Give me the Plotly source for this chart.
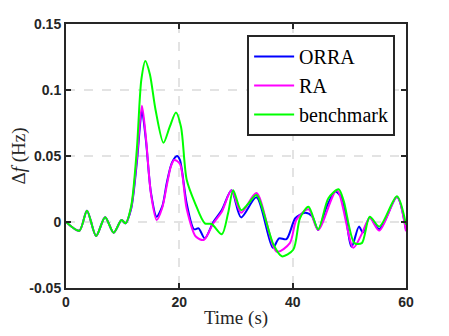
import plotly.graph_objects as go

# time stamps (s) and frequency deviation (Hz)
t_orra = [0, 2.35, 3.7, 5.3, 6.9, 8.4, 9.8, 10.5, 11.5, 12.5, 13.4, 14.1, 15.0, 16.0, 17.0, 17.8,
          18.7, 19.6, 20.1, 21.3, 22.6, 23.4, 24.5, 26.0, 27.5, 29.2, 30.9, 33.6, 36.5, 37.6, 38.9,
          40.5, 42.2, 43.4, 44.5, 46.0, 47.5, 48.7, 50.4, 51.7, 52.4, 53.6, 55.3, 58.4, 60]
orra = [0, -0.0066, 0.0086, -0.0106, 0.0036, -0.0081, 0.0015, -0.001, 0.01, 0.045, 0.084, 0.062,
        0.022, 0.004, 0.012, 0.03, 0.045, 0.050, 0.047, 0.014, -0.0055, -0.0048, -0.0125, 0.0,
        0.009, 0.024, 0.0035, 0.0187, -0.0195, -0.0124, -0.013, 0.003, 0.007, 0.0045, -0.006,
        0.0116, 0.023, 0.018, -0.0187, -0.0035, -0.008, 0.0035, -0.0055, 0.019, -0.006]

t_ra = [0, 2.35, 3.7, 5.3, 6.9, 8.4, 9.8, 10.5, 11.5, 12.5, 13.4, 14.1, 15.0, 16.0, 17.0, 17.8,
        18.5, 19.1, 20.1, 21.3, 22.9, 24.3, 26.0, 27.5, 29.2, 30.9, 33.6, 37.2, 39.5, 40.7,
        42.8, 44.5, 47.8, 50.7, 52.2, 53.6, 55.3, 58.4, 60]
ra = [0, -0.0066, 0.0086, -0.0106, 0.0036, -0.0081, 0.0015, -0.001, 0.011, 0.048, 0.088, 0.064,
      0.021, 0.0015, 0.011, 0.028, 0.042, 0.047, 0.044, 0.01, -0.011, -0.0136, -0.001, 0.0078,
      0.024, 0.007, 0.022, -0.0225, -0.016, 0.002, 0.0096, -0.006, 0.024, -0.0195, -0.009,
      0.003, -0.0065, 0.019, -0.007]

t_bench = [0, 2.35, 3.7, 5.3, 6.9, 8.4, 9.8, 10.5, 11.5, 12.5, 13.3, 14.0, 14.8, 15.8, 17.2, 18.3,
           19.4, 20.3, 21.3, 22.8, 24.5, 25.7, 27.5, 28.6, 29.5, 30.9, 32.2, 33.6, 36.6,
           38.1, 40.1, 41.3, 42.8, 44.5, 46.3, 48.1, 49.0, 50.9, 52.2, 53.6, 55.3, 58.4, 60]
bench = [0, -0.0066, 0.0086, -0.0106, 0.0036, -0.0081, 0.0015, -0.001, 0.012, 0.055, 0.108, 0.122,
         0.112, 0.085, 0.060, 0.072, 0.083, 0.072, 0.032, 0.014, -0.001, -0.0015, -0.0093, 0.0066,
         0.024, 0.009, 0.014, 0.0205, -0.017, -0.026, -0.021, 0.003, 0.0116, -0.0055, 0.018,
         0.0248, 0.016, -0.016, -0.016, 0.004, -0.0035, 0.0195, -0.002]

x_ticks = [0, 20, 40, 60]
y_ticks = [-0.05, 0, 0.05, 0.1, 0.15]
y_labels = ['-0.05', '0', '0.05', '0.1', '0.15']

fig = go.Figure()
for tt, yy, name, col in [(t_orra, orra, 'ORRA', '#0000ff'), (t_ra, ra, 'RA', '#ff00ff'),
                          (t_bench, bench, 'benchmark', '#00ff00')]:
    fig.add_trace(go.Scatter(x=tt, y=yy, name=name, mode='lines',
                             line=dict(color=col, width=2, shape='spline', smoothing=0.8)))

axis_style = dict(showline=True, mirror='ticks', linecolor='#262626', linewidth=2,
                  ticks='inside', ticklen=5, tickwidth=1.5, tickcolor='#262626',
                  showgrid=True, gridcolor='#e3e3e3', gridwidth=1.5, griddash='dash',
                  zeroline=False, automargin=False,
                  tickfont=dict(family='Liberation Sans', size=14, color='#262626'))

fig.update_xaxes(range=[0, 60], tickvals=x_ticks, ticktext=['<b>%d</b>' % v for v in x_ticks],
                 title=dict(text='Time (s)', font=dict(family='Liberation Serif', size=19, color='#262626'),
                            standoff=2), **axis_style)
fig.update_yaxes(range=[-0.05, 0.15], tickvals=y_ticks, ticktext=['<b>%s</b>' % s for s in y_labels],
                 title=dict(text='Δ<i>f</i> (Hz)', font=dict(family='Liberation Serif', size=19, color='#262626'),
                            standoff=6), **axis_style)

# the page body adds an 8px offset, so margins are shifted to land the axes where the reference has them
fig.update_layout(width=449, height=336, margin=dict(l=58, r=51, t=16, b=56),
                  paper_bgcolor='white', plot_bgcolor='white',
                  legend=dict(x=0.968, y=0.958, xanchor='right', yanchor='top',
                              bgcolor='white', bordercolor='#262626', borderwidth=2,
                              font=dict(family='Liberation Serif', size=20, color='black'),
                              itemwidth=40, tracegroupgap=0))

fig.write_html("out.html")
